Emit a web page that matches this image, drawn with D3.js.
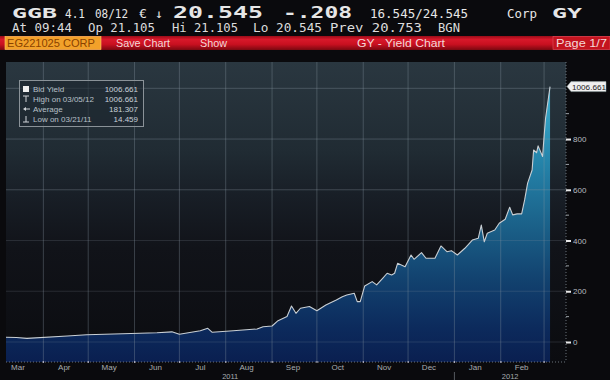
<!DOCTYPE html>
<html><head><meta charset="utf-8">
<script src="https://cdn.jsdelivr.net/npm/d3@7"></script>
<style>html,body{margin:0;padding:0;background:#0a0a0d;}svg{display:block;}</style>
</head><body>
<svg id="c" width="610" height="380"></svg>
<script>
// ---- data ----
const dates = ["2011-03-07","2011-03-14","2011-03-21","2011-04-17","2011-04-30","2011-05-24","2011-06-16","2011-06-26","2011-07-01","2011-07-15","2011-07-20","2011-07-23","2011-08-06","2011-08-22","2011-08-26","2011-09-01","2011-09-05","2011-09-11","2011-09-14","2011-09-17","2011-09-20","2011-09-26","2011-10-01","2011-10-07","2011-10-14","2011-10-18","2011-10-21","2011-10-26","2011-10-28","2011-10-30","2011-11-02","2011-11-07","2011-11-10","2011-11-14","2011-11-17","2011-11-20","2011-11-22","2011-11-24","2011-11-29","2011-12-03","2011-12-05","2011-12-10","2011-12-13","2011-12-19","2011-12-23","2011-12-27","2011-12-30","2012-01-03","2012-01-08","2012-01-13","2012-01-17","2012-01-19","2012-01-21","2012-01-23","2012-01-28","2012-01-31","2012-02-04","2012-02-07","2012-02-09","2012-02-12","2012-02-15","2012-02-17","2012-02-19","2012-02-22","2012-02-23","2012-02-25","2012-02-26","2012-02-29","2012-03-01","2012-03-02","2012-03-05"];
const yields = [18.5,17.5,14.459,23.7,28.8,32.7,36.7,40,30.4,44.6,54,38.2,44.6,51.3,60.3,63,84,100.5,142,113,133,140,123,146,165.6,178.6,185,192,159,159,221,238,225,251,271,264,271,310,297,343,326,352,330,330,378.5,356,360,343,369.5,402,409,461,395,428.6,441.6,468,484,531,501,505,505,560,626,678,757,746,773,731,810,882,1006.661];
const yTicks = [0,200,400,600,800,1000];
const yLabelTicks = [0,200,400,600,800];
const yMinorTicks = [100,300,500,700,900];
const monthLabels = ["Mar","Apr","May","Jun","Jul","Aug","Sep","Oct","Nov","Dec","Jan","Feb"];
const yearLabels = ["2011","2012"];
const legendRows = [
  {icon:"square", label:"Bid Yield", value:"1006.661"},
  {icon:"high", label:"High on 03/05/12", value:"1006.661"},
  {icon:"avg", label:"Average", value:"181.307"},
  {icon:"low", label:"Low on 03/21/11", value:"14.459"}
];
const header1 = [
  {t:"GGB", x:12, w:45, bold:true, fs:14},
  {t:"4.1", x:65, w:20, fs:12},
  {t:"08/12", x:95, w:33, fs:12},
  {t:"€", x:139, w:8, fs:12},
  {t:"↓", x:155, w:8, fs:12},
  {t:"20.545", x:173, w:90, bold:true, fs:15},
  {t:"-.208", x:283, w:69, bold:true, fs:15},
  {t:"16.545/24.545", x:370, w:98, fs:12},
  {t:"Corp", x:507, w:30, fs:12},
  {t:"GY", x:552, w:30, bold:true, fs:14}
];
const header2 = [
  {t:"At 09:44", x:12, w:60},
  {t:"Op 21.105", x:88, w:67},
  {t:"Hi 21.105", x:172, w:66},
  {t:"Lo 20.545", x:253, w:69},
  {t:"Prev 20.753", x:330, w:92},
  {t:"BGN", x:438, w:22}
];
const barTexts = [
  {t:"Save Chart", x:116, w:54},
  {t:"Show", x:200, w:27},
  {t:"GY - Yield Chart", x:357, w:88}
];

const svg = d3.select("#c");
const parse = d3.utcParse("%Y-%m-%d");
const data = dates.map((d,i)=>({date:parse(d), v:yields[i]}));

const plot = {l:6, r:566, t:62, b:362};
const x = d3.scaleUtc().domain([parse("2011-03-07"), parse("2012-03-15")]).range([plot.l, 565]);
const y = d3.scaleLinear().domain([0,1000]).range([342, 88.3]);

const defs = svg.append("defs");
const bg = defs.append("linearGradient").attr("id","bg").attr("x1",0).attr("x2",0).attr("y1",0).attr("y2",1);
[[0,"#2a3740"],[0.3,"#202b33"],[0.45,"#181e26"],[0.62,"#111319"],[1,"#0b0c10"]].forEach(s=>bg.append("stop").attr("offset",s[0]).attr("stop-color",s[1]));
const ag = defs.append("linearGradient").attr("id","ag").attr("gradientUnits","userSpaceOnUse").attr("x1",0).attr("x2",0).attr("y1",plot.b).attr("y2",85);
[[0,"#0a1f50"],[0.12,"#0c2a5c"],[0.3,"#12426f"],[0.5,"#1b628a"],[0.75,"#2688ae"],[1,"#40b4d4"]].forEach(s=>ag.append("stop").attr("offset",s[0]).attr("stop-color",s[1]));
const rg = defs.append("linearGradient").attr("id","rg").attr("x1",0).attr("x2",0).attr("y1",0).attr("y2",1);
[[0,"#9a0c18"],[0.25,"#d8182a"],[0.6,"#c81020"],[1,"#7a0810"]].forEach(s=>rg.append("stop").attr("offset",s[0]).attr("stop-color",s[1]));

// ---- header ----
svg.append("rect").attr("x",0).attr("y",0).attr("width",610).attr("height",380).attr("fill","#0a0a0d");
const hf = "'DejaVu Sans Mono', monospace";
svg.selectAll("text.h1").data(header1).join("text").attr("class","h1")
  .attr("x",d=>d.x).attr("y",18).attr("font-family",hf).attr("font-size",d=>d.fs)
  .attr("font-weight",d=>d.bold?"bold":"normal").attr("fill","#e6e6e6")
  .attr("textLength",d=>d.w).attr("lengthAdjust","spacingAndGlyphs").text(d=>d.t);
svg.selectAll("text.h2").data(header2).join("text").attr("class","h2")
  .attr("x",d=>d.x).attr("y",32).attr("font-family",hf).attr("font-size",12)
  .attr("fill","#dcdcdc").attr("textLength",d=>d.w).attr("lengthAdjust","spacingAndGlyphs").text(d=>d.t);

// red bar
svg.append("rect").attr("x",0).attr("y",36).attr("width",610).attr("height",14).attr("fill","url(#rg)");
svg.append("rect").attr("x",5).attr("y",36.5).attr("width",96).attr("height",13).attr("fill","#f2a12a").attr("stroke","#ffc868").attr("stroke-width",0.6);
svg.append("text").attr("x",7).attr("y",47).attr("font-family","'Liberation Sans', Arial, sans-serif").attr("font-size",10.5)
  .attr("fill","#8a4200").attr("textLength",88).attr("lengthAdjust","spacingAndGlyphs").text("EG221025 CORP");
svg.append("rect").attr("x",553).attr("y",36.5).attr("width",57).attr("height",13).attr("fill","#c4141f").attr("stroke","#e05060").attr("stroke-width",0.6);
svg.selectAll("text.bt").data(barTexts.concat([{t:"Page 1/7", x:556, w:51}])).join("text").attr("class","bt")
  .attr("x",d=>d.x).attr("y",47).attr("font-family","'Liberation Sans', Arial, sans-serif").attr("font-size",10.5)
  .attr("fill","#f4d8d8").attr("textLength",d=>d.w).attr("lengthAdjust","spacingAndGlyphs").text(d=>d.t);

// ---- plot background ----
svg.append("rect").attr("x",plot.l).attr("y",plot.t).attr("width",plot.r-plot.l).attr("height",plot.b-plot.t).attr("fill","url(#bg)");

// area + line
const area = d3.area().x(d=>x(d.date)).y0(plot.b).y1(d=>y(d.v)).curve(d3.curveLinear);
svg.append("path").datum(data).attr("d",area).attr("fill","url(#ag)");

// grid
const monthStarts = d3.utcMonth.range(parse("2011-04-01"), parse("2012-03-02"));
svg.append("g").selectAll("line").data(monthStarts).join("line")
  .attr("x1",d=>x(d)).attr("x2",d=>x(d)).attr("y1",plot.t).attr("y2",plot.b)
  .attr("stroke","#8a98a4").attr("stroke-opacity",0.35).attr("stroke-width",1);
svg.append("g").selectAll("line").data(yTicks).join("line")
  .attr("x1",plot.l).attr("x2",plot.r).attr("y1",d=>y(d)).attr("y2",d=>y(d))
  .attr("stroke","#8a98a4").attr("stroke-opacity",d=>d>=600?0.35:0.2).attr("stroke-width",1);

svg.append("path").datum(data).attr("d",d3.line().x(d=>x(d.date)).y(d=>y(d.v)))
  .attr("fill","none").attr("stroke","#c9cfd4").attr("stroke-width",1.1).attr("stroke-linejoin","round");

// plot frame (right and bottom dotted)
svg.append("line").attr("x1",plot.r).attr("x2",plot.r).attr("y1",plot.t).attr("y2",plot.b)
  .attr("stroke","#6a727a").attr("stroke-dasharray","1,2");
svg.append("line").attr("x1",plot.l).attr("x2",plot.r).attr("y1",plot.b).attr("y2",plot.b)
  .attr("stroke","#6a727a").attr("stroke-dasharray","1,2");

// ---- right axis ----
const ya = d3.axisRight(y).tickValues(yLabelTicks).tickSize(5).tickPadding(2).tickFormat(d3.format("d"));
const gy = svg.append("g").attr("transform",`translate(${plot.r},0)`).call(ya);
gy.select(".domain").remove();
gy.selectAll(".tick line").attr("stroke","#e8e8e8").attr("stroke-width",2);
gy.selectAll(".tick text").attr("fill","#b8bcc0").attr("font-family","'Liberation Sans', Arial, sans-serif").attr("font-size",8);
svg.append("g").selectAll("line").data(yMinorTicks).join("line")
  .attr("x1",plot.r).attr("x2",plot.r+3).attr("y1",d=>y(d)).attr("y2",d=>y(d)).attr("stroke","#9aa0a6");

// last value tag
const last = data[data.length-1];
const ty = y(last.v);
svg.append("path").attr("d",`M${plot.r+1},${ty} L${plot.r+5},${ty-5} L606,${ty-5} L606,${ty+5} L${plot.r+5},${ty+5} Z`)
  .attr("fill","#f0f0f0").attr("stroke","#99aaaa").attr("stroke-width",0.5);
svg.append("text").attr("x",plot.r+6).attr("y",ty+3).attr("font-family","'Liberation Sans', Arial, sans-serif")
  .attr("font-size",8).attr("fill","#222").attr("textLength",34).attr("lengthAdjust","spacingAndGlyphs")
  .text(d3.format(".3f")(last.v));

// ---- bottom axis ----
svg.append("g").selectAll("rect").data(monthStarts).join("rect")
  .attr("x",d=>x(d)-0.5).attr("y",plot.b-1).attr("width",1.2).attr("height",2).attr("fill","#aab");
const monthStartsAll = d3.utcMonth.range(parse("2011-03-01"), parse("2012-03-01"));
svg.append("g").selectAll("text").data(monthStartsAll).join("text")
  .attr("x",d=>x(d3.utcDay.offset(d,14))).attr("y",370).attr("text-anchor","middle")
  .attr("font-family","'Liberation Sans', Arial, sans-serif").attr("font-size",8).attr("fill","#a8acb0")
  .text((d,i)=>monthLabels[i]);
const yearBreak = x(parse("2012-01-01"));
svg.append("line").attr("x1",yearBreak).attr("x2",yearBreak).attr("y1",372).attr("y2",380).attr("stroke","#555a60");
svg.append("g").selectAll("text").data(yearLabels).join("text")
  .attr("x",(d,i)=> i===0 ? (plot.l+yearBreak)/2 : (yearBreak+plot.r)/2).attr("y",378.5)
  .attr("text-anchor","middle").attr("font-family","'Liberation Sans', Arial, sans-serif").attr("font-size",7.5).attr("fill","#a8acb0")
  .text(d=>d);

// ---- legend ----
const lg = svg.append("g");
lg.append("rect").attr("x",19.5).attr("y",80.5).attr("width",124).attr("height",46)
  .attr("fill","#1d262e").attr("fill-opacity",0.6).attr("stroke","#8a9298").attr("stroke-width",1);
const rowY = [92,102,112,122];
legendRows.forEach((r,i)=>{
  const yy = rowY[i];
  if(r.icon==="square") lg.append("rect").attr("x",23).attr("y",yy-6).attr("width",6).attr("height",6).attr("fill","#f0f0f0");
  if(r.icon==="high"){ lg.append("line").attr("x1",23).attr("x2",29).attr("y1",yy-6).attr("y2",yy-6).attr("stroke","#d0d4d8");
    lg.append("line").attr("x1",26).attr("x2",26).attr("y1",yy-6).attr("y2",yy).attr("stroke","#d0d4d8"); }
  if(r.icon==="avg"){ lg.append("path").attr("d",`M23,${yy-3} L26,${yy-5} L26,${yy-1} Z`).attr("fill","#d0d4d8");
    lg.append("line").attr("x1",25).attr("x2",30).attr("y1",yy-3).attr("y2",yy-3).attr("stroke","#d0d4d8"); }
  if(r.icon==="low"){ lg.append("line").attr("x1",26).attr("x2",26).attr("y1",yy-6).attr("y2",yy).attr("stroke","#d0d4d8");
    lg.append("line").attr("x1",23).attr("x2",29).attr("y1",yy).attr("y2",yy).attr("stroke","#d0d4d8"); }
  lg.append("text").attr("x",33).attr("y",yy).attr("font-family","'Liberation Sans', Arial, sans-serif").attr("font-size",8)
    .attr("fill","#b8c0c8").text(r.label);
  lg.append("text").attr("x",138).attr("y",yy).attr("text-anchor","end").attr("font-family","'Liberation Sans', Arial, sans-serif").attr("font-size",8)
    .attr("fill","#c8d0d8").text(r.value);
});
</script>
</body></html>
